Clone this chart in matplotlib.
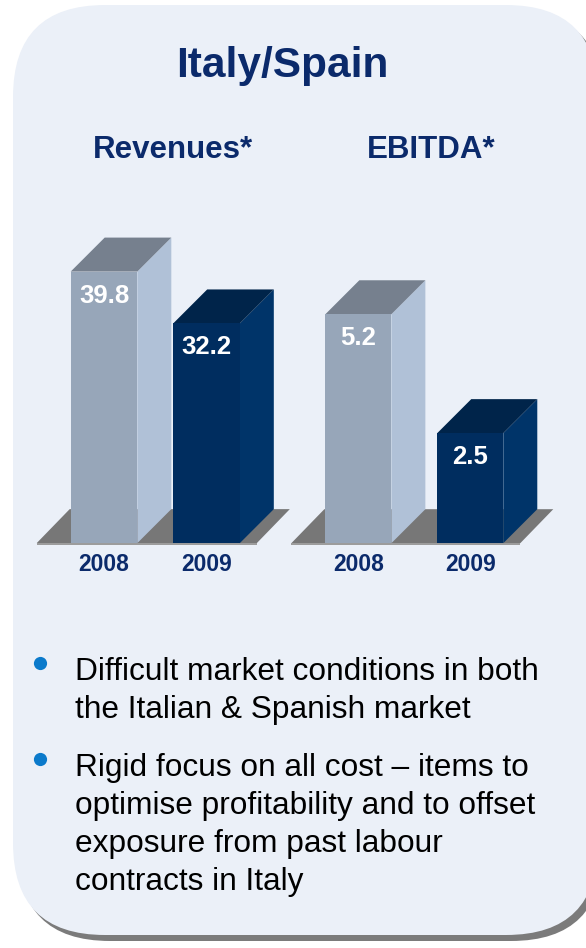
import matplotlib.pyplot as plt
from matplotlib.patches import FancyBboxPatch, Polygon

years = ["2008", "2009"]
revenues = [39.8, 32.2]
ebitda = [5.2, 2.5]
title = "Italy/Spain"
chart_titles = ["Revenues*", "EBITDA*"]
bullets = [
    ["Difficult market conditions in both", "the Italian & Spanish market"],
    ["Rigid focus on all cost \u2013 items to", "optimise profitability and to offset",
     "exposure from past labour", "contracts in Italy"],
]

W, H = 586, 948
NAVY = "#0b2a6b"
FRONT = ["#97a6b9", "#002d5f"]
SIDE = ["#b0c1d7", "#003469"]
TOP = ["#76808e", "#00244a"]

plt.rcParams["font.family"] = ["Liberation Sans", "DejaVu Sans"]

fig = plt.figure(figsize=(W / 100, H / 100), dpi=100)
fig.patch.set_facecolor("white")

# background layer in pixel units
bg = fig.add_axes([0, 0, 1, 1])
bg.set_xlim(0, W)
bg.set_ylim(H, 0)
bg.axis("off")

# rounded panel with a drop shadow
bg.add_patch(FancyBboxPatch((18, 11), 585, 930, boxstyle="round,pad=0,rounding_size=92",
                            fc="#7b7b7b", ec="none"))
bg.add_patch(FancyBboxPatch((13, 5), 585, 930, boxstyle="round,pad=0,rounding_size=92",
                            fc="#ebf0f8", ec="none"))

bg.text(282, 77, title, ha="center", va="baseline", fontsize=30.5,
        fontweight="bold", color=NAVY)
for cx, t in zip([173, 431], chart_titles):
    bg.text(cx, 158, t, ha="center", va="baseline", fontsize=22.5,
            fontweight="bold", color=NAVY)

# bullet points
baselines = [[680, 718], [776, 814, 852, 890]]
for lines, ys in zip(bullets, baselines):
    bg.plot(40, ys[0] - 17, "o", ms=9.5, color="#0b7acb", mec="none")
    for line, y in zip(lines, ys):
        bg.text(75, y, line, ha="left", va="baseline", fontsize=22.8, color="black")


def px_axes(left, top, right, bottom):
    return fig.add_axes([left / W, 1 - bottom / H, (right - left) / W, (bottom - top) / H])


def bar3d(ax, values, width, depth=34, floor_depth=(33, 34), floor_pad=(34, 17)):
    pos = ax.get_position()
    x0, x1 = ax.get_xlim()
    y0, y1 = ax.get_ylim()
    sx = (x1 - x0) / (pos.width * W)
    sy = (y1 - y0) / (pos.height * H)
    dx, dy = depth * sx, depth * sy
    n = len(values)

    # floor slab
    fl = -width / 2 - floor_pad[0] * sx
    fr = (n - 1) + width / 2 + floor_pad[1] * sx
    fdx, fdy = floor_depth[0] * sx, floor_depth[1] * sy
    ax.add_patch(Polygon([(fl, 0), (fr, 0), (fr + fdx, fdy), (fl + fdx, fdy)],
                         closed=True, fc="#777777", ec="none", zorder=1, clip_on=False))
    ax.add_patch(Polygon([(fl, -2 * sy), (fr, -2 * sy), (fr, 0), (fl, 0)],
                         closed=True, fc="#9c9c9c", ec="none", zorder=1, clip_on=False))

    xs = list(range(n))
    ax.bar(xs, values, width, color=FRONT, zorder=3, clip_on=False)
    for i, v in enumerate(values):
        l, r = i - width / 2, i + width / 2
        ax.add_patch(Polygon([(r, 0), (r + dx, dy), (r + dx, v + dy), (r, v)],
                             closed=True, fc=SIDE[i], ec="none", zorder=2, clip_on=False))
        ax.add_patch(Polygon([(l, v), (r, v), (r + dx, v + dy), (l + dx, v + dy)],
                             closed=True, fc=TOP[i], ec="none", zorder=2, clip_on=False))
        ax.text(i, v - 24 * sy, f"{v}", ha="center", va="center", fontsize=18.5,
                fontweight="bold", color="white", zorder=4)

    ax.set_xticks(xs, years, fontweight="bold")
    ax.tick_params(axis="x", length=0, pad=0.5, labelsize=16.5, labelcolor=NAVY)
    ax.set_yticks([])
    ax.set_frame_on(False)
    ax.patch.set_alpha(0)


ax1 = px_axes(22, 202, 309, 552)
ax1.set_xlim(-0.8, 2.0)
ax1.set_ylim(-1.3, 50)
bar3d(ax1, revenues, 0.65)

ax2 = px_axes(280, 191, 571, 552)
ax2.set_xlim(-0.7, 1.9)
ax2.set_ylim(-0.2, 8)
bar3d(ax2, ebitda, 0.59)

fig.savefig("out.png", dpi=100)
